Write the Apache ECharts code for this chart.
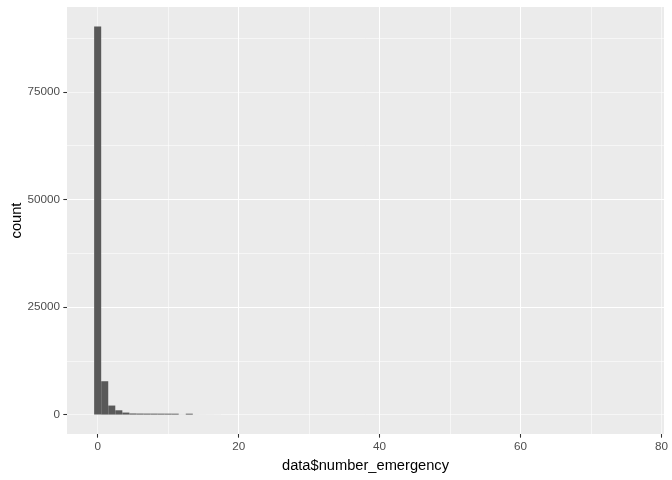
<!DOCTYPE html>
<html>
<head>
<meta charset="utf-8">
<script src="https://cdn.jsdelivr.net/npm/echarts@6/dist/echarts.min.js"></script>
<style>
  html, body { margin: 0; padding: 0; background: #fff; }
  #chart { width: 672px; height: 480px; }
</style>
</head>
<body>
<div id="chart"></div>
<script>
// histogram of data$number_emergency, binwidth 1, bins centred on 0..76
const binCenters = [];
for (let i = 0; i <= 76; i++) binCenters.push(i);
const counts = [
  90200, 7750, 2100, 1000, 470, 260, 240, 230, 225, 220,
  215, 210, 20, 210, 15, 12, 10, 8, 6, 5,
  5, 4, 3, 3, 2, 2, 2, 1, 1, 1,
  1, 0, 0, 0, 0, 1, 0, 0, 0, 0,
  0, 1, 0, 0, 0, 0, 0, 0, 0, 0,
  0, 0, 0, 0, 0, 0, 0, 0, 0, 0,
  0, 0, 0, 0, 0, 0, 0, 0, 0, 0,
  0, 0, 0, 0, 0, 0, 1
];
const xTickLabels = [0, 20, 40, 60, 80];
const yTickLabels = [0, 25000, 50000, 75000];

const binWidth = 1;
const xLo = binCenters[0] - binWidth / 2;
const xHi = binCenters[binCenters.length - 1] + binWidth / 2;
const xPad = (xHi - xLo) * 0.05;
const yMaxCount = Math.max(...counts);
const yPad = yMaxCount * 0.05;

const labelColor = "#4D4D4D";
const tickColor = "#333333";
const font = "Liberation Sans, Arial, sans-serif";

const chart = echarts.init(document.getElementById("chart"));

chart.setOption({
  animation: false,
  grid: {
    left: 67,
    right: 8,
    top: 7,
    bottom: 46,
    show: true,
    backgroundColor: "#EBEBEB",
    borderWidth: 0,
    containLabel: false,
    outerBoundsMode: "none"
  },
  xAxis: [
    {
      type: "value",
      min: xLo - xPad,
      max: xHi + xPad,
      minInterval: 10,
      maxInterval: 10,
      axisLine: { show: false, onZero: false },
      axisTick: { show: false },
      axisLabel: { show: false },
      splitLine: {
        show: true,
        showMinLine: false,
        showMaxLine: false,
        lineStyle: { color: "#FFFFFF", width: 0.55 }
      }
    },
    {
      type: "value",
      position: "bottom",
      min: xLo - xPad,
      max: xHi + xPad,
      minInterval: 20,
      maxInterval: 20,
      axisLine: { show: false, onZero: false },
      axisTick: {
        show: true,
        length: 3.7,
        customValues: xTickLabels,
        lineStyle: { color: tickColor, width: 1.07 }
      },
      axisLabel: {
        customValues: xTickLabels,
        color: labelColor,
        fontSize: 11.7,
        fontFamily: font,
        margin: 7,
        formatter: v => String(v)
      },
      splitLine: {
        show: true,
        showMinLine: false,
        showMaxLine: false,
        lineStyle: { color: "#FFFFFF", width: 1.07 }
      },
      name: "data$number_emergency",
      nameLocation: "middle",
      nameGap: 24,
      nameMoveOverlap: false,
      nameTextStyle: { color: "#000000", fontSize: 14.67, fontFamily: font }
    }
  ],
  yAxis: [
    {
      type: "value",
      position: "left",
      min: -yPad,
      max: yMaxCount + yPad,
      minInterval: 12500,
      maxInterval: 12500,
      axisLine: { show: false, onZero: false },
      axisTick: { show: false },
      axisLabel: { show: false },
      splitLine: {
        show: true,
        showMinLine: false,
        showMaxLine: false,
        lineStyle: { color: "#FFFFFF", width: 0.55 }
      }
    },
    {
      type: "value",
      position: "left",
      min: -yPad,
      max: yMaxCount + yPad,
      minInterval: 25000,
      maxInterval: 25000,
      axisLine: { show: false, onZero: false },
      axisTick: {
        show: true,
        length: 3.7,
        customValues: yTickLabels,
        lineStyle: { color: tickColor, width: 1.07 }
      },
      axisLabel: {
        customValues: yTickLabels,
        color: labelColor,
        fontSize: 11.7,
        fontFamily: font,
        margin: 7,
        formatter: v => String(v)
      },
      splitLine: {
        show: true,
        showMinLine: false,
        showMaxLine: false,
        lineStyle: { color: "#FFFFFF", width: 1.07 }
      },
      name: "count",
      nameLocation: "middle",
      nameGap: 43,
      nameMoveOverlap: false,
      nameTextStyle: { color: "#000000", fontSize: 14.67, fontFamily: font }
    }
  ],
  series: [
    {
      type: "custom",
      xAxisIndex: 0,
      yAxisIndex: 0,
      data: binCenters.map((c, i) => [c, counts[i]]),
      renderItem: function (params, api) {
        const c = api.value(0);
        const n = api.value(1);
        if (!n) return null;
        const p0 = api.coord([c - binWidth / 2, n]);
        const p1 = api.coord([c + binWidth / 2, 0]);
        return {
          type: "rect",
          shape: { x: p0[0], y: p0[1], width: p1[0] - p0[0], height: p1[1] - p0[1] },
          style: { fill: "#595959" }
        };
      }
    }
  ]
});
</script>
</body>
</html>
